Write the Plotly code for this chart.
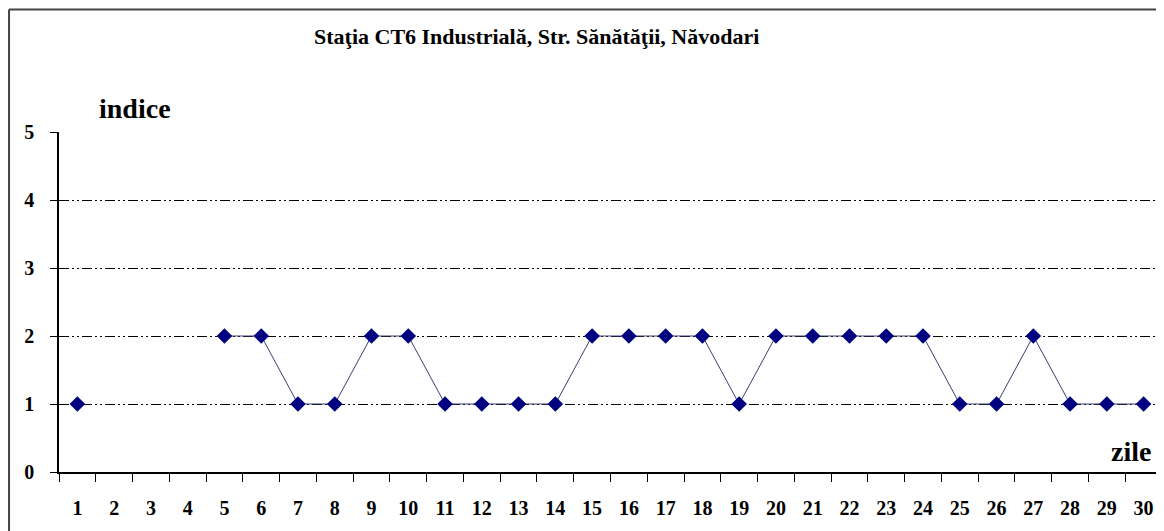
import plotly.graph_objects as go

days = [str(d) for d in range(1, 31)]
indice = [1, None, None, None, 2, 2, 1, 1, 2, 2, 1, 1, 1, 1, 2, 2, 2, 2, 1, 2,
          2, 2, 2, 2, 1, 1, 2, 1, 1, 1]
y_ticks = [0, 1, 2, 3, 4, 5]

title_text = "Staţia CT6 Industrială, Str. Sănătăţii, Năvodari"
font_family = "Liberation Serif, Times New Roman, serif"

fig = go.Figure()
fig.add_trace(go.Scatter(
    x=days, y=indice, mode="lines+markers",
    line=dict(color="#3a3d78", width=1),
    marker=dict(symbol="diamond", size=12, color="#000080"),
    connectgaps=False, cliponaxis=False, showlegend=False,
))

# page body has an 8px margin, so the figure is drawn offset by 8px
fig.update_layout(
    width=1156, height=523,
    margin=dict(l=51, r=2, t=124, b=59),
    paper_bgcolor="white", plot_bgcolor="white",
    font=dict(family=font_family, color="black"),
)

fig.update_xaxes(
    type="category", range=[-0.5, 29.5], tickson="boundaries",
    ticks="outside", ticklen=8, tickcolor="black", tickwidth=1,
    showline=True, linecolor="black", linewidth=1.5,
    showgrid=False, zeroline=False,
    tickfont=dict(family=font_family, size=20, color="black", weight="bold"),
    ticklabelstandoff=17,
)
fig.update_yaxes(
    range=[0, 5], tickvals=y_ticks, ticktext=[str(v) for v in y_ticks],
    ticks="outside", ticklen=7, tickcolor="black", tickwidth=1,
    showline=True, linecolor="black", linewidth=1.5,
    showgrid=True, gridcolor="black", gridwidth=1,
    griddash="10px,3px,2px,3px,2px,3px",
    zeroline=False,
    tickfont=dict(family=font_family, size=20, color="black", weight="bold"),
    ticklabelstandoff=12,
)

fig.add_annotation(text=title_text, xref="paper", yref="paper",
                   x=0.433, y=1.282, xanchor="center", yanchor="middle",
                   showarrow=False,
                   font=dict(family=font_family, size=22, color="black", weight="bold"))
fig.add_annotation(text="indice", xref="paper", yref="paper",
                   x=0.034, y=1.07, xanchor="left", yanchor="middle",
                   showarrow=False,
                   font=dict(family=font_family, size=28, color="black", weight="bold"))
fig.add_annotation(text="zile", xref="paper", yref="paper",
                   x=0.992, y=0.059, xanchor="right", yanchor="middle",
                   showarrow=False,
                   font=dict(family=font_family, size=28, color="black", weight="bold"))

# outer frame
fig.add_shape(type="line", xref="paper", yref="paper",
              x0=-0.0453, x1=1.0012, y0=1.36, y1=1.36,
              line=dict(color="#444444", width=2))
fig.add_shape(type="line", xref="paper", yref="paper",
              x0=-0.0453, x1=-0.0453, y0=1.36, y1=-0.18,
              line=dict(color="#444444", width=2))
fig.add_shape(type="line", xref="paper", yref="paper",
              x0=1.0012, x1=1.0012, y0=1.36, y1=-0.18,
              line=dict(color="#bbbbbb", width=1))

fig.write_html("out.html")
